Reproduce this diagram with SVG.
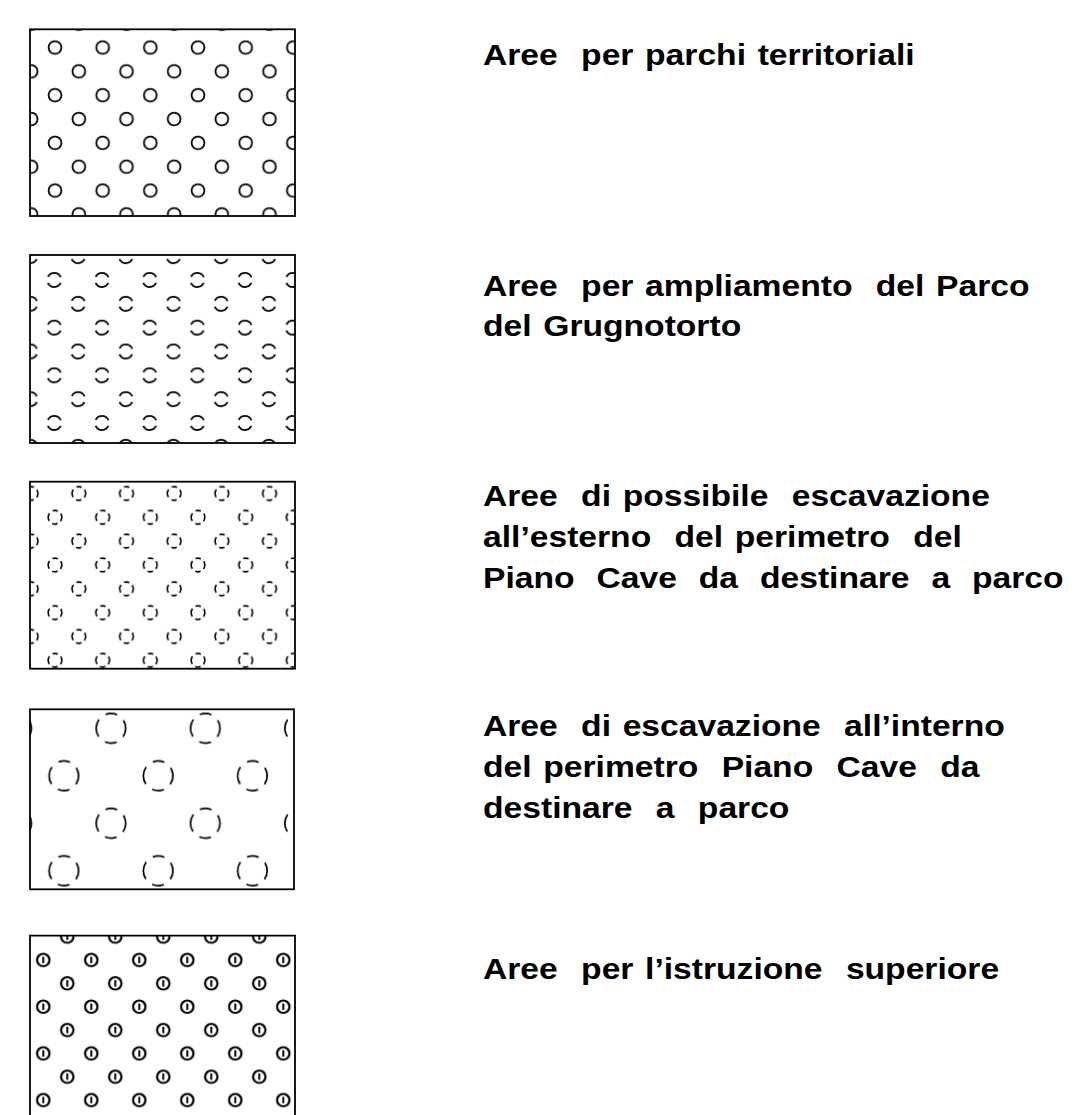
<svg xmlns="http://www.w3.org/2000/svg" width="1076" height="1115" viewBox="0 0 1076 1115">
<style>
.frame{fill:none;stroke:#000;stroke-width:1.8}
.c{fill:none;stroke:#000;stroke-width:1.8}
.c2{fill:none;stroke:#000;stroke-width:1.8;stroke-dasharray:0 3.05 15.88 6.11 15.88 3.06}
.c3{fill:none;stroke:#000;stroke-width:1.6;stroke-dasharray:4.15 3.80 5.46 3.80 8.31 3.80 5.46 3.80 4.15}
.c4{fill:none;stroke:#000;stroke-width:1.7;stroke-dasharray:9.04 8.27 11.89 8.27 18.09 8.27 11.89 8.27 9.04}
.c5{fill:none;stroke:#000;stroke-width:2.2}
.bar{stroke:#000;stroke-width:1.9}
.lbl{font-family:"Liberation Sans",Arial,sans-serif;font-weight:bold;font-size:29px;fill:#000;white-space:pre;word-spacing:2px}
</style>
<defs>
<pattern id="p1" patternUnits="userSpaceOnUse" x="43.08" y="35.6" width="47.67" height="47.67">
<circle class="c" cx="11.92" cy="11.92" r="6.4"/>
<circle class="c" cx="35.75" cy="35.75" r="6.4"/>
</pattern>
<pattern id="p2" patternUnits="userSpaceOnUse" x="42.4" y="268.1" width="47.67" height="47.67">
<circle class="c2" cx="11.92" cy="11.92" r="7"/>
<circle class="c2" cx="35.75" cy="35.75" r="7"/>
</pattern>
<pattern id="p3" patternUnits="userSpaceOnUse" x="43.08" y="505.4" width="47.67" height="47.67">
<circle class="c3" cx="11.92" cy="11.92" r="6.8"/>
<circle class="c3" cx="35.75" cy="35.75" r="6.8"/>
</pattern>
<pattern id="p4" patternUnits="userSpaceOnUse" x="87.4" y="704.55" width="94.3" height="95">
<circle class="c4" cx="23.58" cy="23.75" r="14.8"/>
<circle class="c4" cx="70.73" cy="71.25" r="14.8"/>
</pattern>
<pattern id="p5" patternUnits="userSpaceOnUse" x="31.3" y="948.3" width="48" height="46.7">
<circle class="c5" cx="12" cy="11.68" r="6.2"/>
<line class="bar" x1="12" y1="8.4" x2="12" y2="15"/>
<circle class="c5" cx="36" cy="35.03" r="6.2"/>
<line class="bar" x1="36" y1="31.7" x2="36" y2="38.3"/>
</pattern>
</defs>
<rect width="1076" height="1115" fill="#fff"/>

<g id="legend-parchi-territoriali">
<rect x="30" y="29.3" width="265" height="186.7" fill="url(#p1)"/>
<rect class="frame" x="30" y="29.3" width="265" height="186.7"/>
<g transform="translate(483,0) scale(1.16,1)">
<text class="lbl" x="0" y="65" xml:space="preserve">Aree  per parchi territoriali</text>
</g>
</g>

<g id="legend-ampliamento-grugnotorto">
<rect x="30" y="255" width="265" height="188" fill="url(#p2)"/>
<rect class="frame" x="30" y="255" width="265" height="188"/>
<g transform="translate(483,0) scale(1.16,1)">
<text class="lbl" x="0" y="296" xml:space="preserve">Aree  per ampliamento  del Parco</text>
<text class="lbl" x="0" y="336" xml:space="preserve">del Grugnotorto</text>
</g>
</g>

<g id="legend-escavazione-esterno">
<rect x="30" y="481.7" width="265" height="187" fill="url(#p3)"/>
<rect class="frame" x="30" y="481.7" width="265" height="187"/>
<g transform="translate(483,0) scale(1.16,1)">
<text class="lbl" x="0" y="506" xml:space="preserve">Aree  di possibile  escavazione</text>
<text class="lbl" x="0" y="547" xml:space="preserve">all’esterno  del perimetro  del</text>
<text class="lbl" x="0" y="588" xml:space="preserve" style="word-spacing:1.4px">Piano  Cave  da  destinare  a  parco</text>
</g>
</g>

<g id="legend-escavazione-interno">
<rect x="30" y="709.3" width="264" height="180" fill="url(#p4)"/>
<rect class="frame" x="30" y="709.3" width="264" height="180"/>
<g transform="translate(483,0) scale(1.16,1)">
<text class="lbl" x="0" y="736" xml:space="preserve">Aree  di escavazione  all’interno</text>
<text class="lbl" x="0" y="777" xml:space="preserve">del perimetro  Piano  Cave  da</text>
<text class="lbl" x="0" y="818" xml:space="preserve">destinare  a  parco</text>
</g>
</g>

<g id="legend-istruzione-superiore">
<rect x="30" y="935.7" width="265" height="179.3" fill="url(#p5)"/>
<path class="frame" d="M30,1115 V935.7 H295 V1115"/>
<g transform="translate(483,0) scale(1.16,1)">
<text class="lbl" x="0" y="979" xml:space="preserve">Aree  per l’istruzione  superiore</text>
</g>
</g>
</svg>
